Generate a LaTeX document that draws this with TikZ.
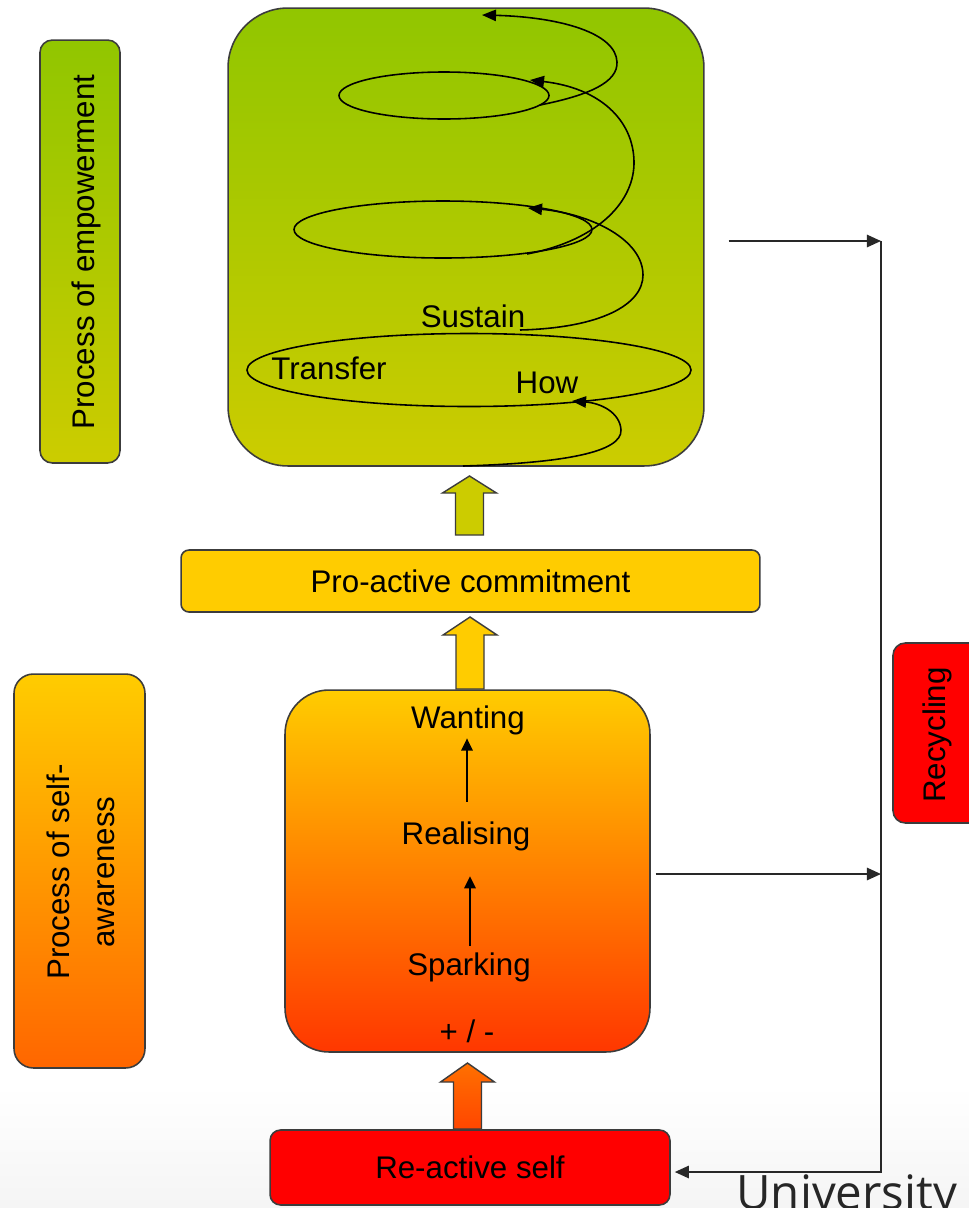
\documentclass[tikz,border=0pt]{standalone}
\usepackage{fontspec}
\setmainfont{Liberation Sans}
\newfontfamily\unifont{Open Sans}
\usetikzlibrary{arrows.meta}

\definecolor{greenTop}{RGB}{145,198,0}
\definecolor{greenBot}{RGB}{204,204,0}
\definecolor{amber}{RGB}{255,204,0}
\definecolor{orangeMid}{RGB}{255,150,0}
\definecolor{orangeBot}{RGB}{255,102,0}
\definecolor{redBot}{RGB}{255,55,0}
\definecolor{arrowOrTop}{RGB}{255,112,0}
\definecolor{arrowOrBot}{RGB}{255,70,0}
\definecolor{pureRed}{RGB}{255,0,0}
\definecolor{edge}{RGB}{60,60,60}
\definecolor{wire}{RGB}{40,40,40}

% upward block arrow: centre x, tip y, head base y, bottom y, extra options
\newcommand\upblock[5]{%
  \draw[blockedge,#5] (#1,#2) -- ({#1+27},#3) -- ({#1+14},#3) -- ({#1+14},#4)
    -- ({#1-14},#4) -- ({#1-14},#3) -- ({#1-27},#3) -- cycle;}

\begin{document}
\begin{tikzpicture}[x=0.02cm, y=-0.02cm,
  box/.style={draw=edge, line width=0.9pt, inner sep=0pt},
  blockedge/.style={draw=edge, line width=0.8pt, line join=miter},
  txt/.style={font=\fontsize{17.8}{25.5}\selectfont, inner sep=0pt},
  flow/.style={draw=wire, line width=1.1pt, -{Triangle[length=8pt,width=7pt]}},
  inarrow/.style={draw=black, line width=1.1pt, -{Triangle[length=7pt,width=6.5pt]}},
  coil/.style={draw=black, line width=0.9pt},
  cointip/.style={coil, -{Triangle[length=8pt,width=6.5pt]}},
]
\clip (0,0) rectangle (969,1208);
\fill[white] (0,0) rectangle (969,1208);
\shade[top color=white, bottom color=black!4] (0,1085) rectangle (969,1208);

% ---- side labels ----
\node[box, rounded corners=7pt, minimum width=1.6cm, minimum height=8.46cm,
      top color=greenTop, bottom color=greenBot] (empSide) at (80,251.5) {};
\node[txt, rotate=90] (empText) at (86,252) {Process of empowerment};

\node[box, rounded corners=11pt, minimum width=2.62cm, minimum height=7.88cm,
      top color=amber, bottom color=orangeBot] (selfSide) at (79.5,871) {};
\node[txt, rotate=90, align=center] (selfText) at (81,872) {Process of self-\\awareness};

% ---- main column ----
\node[box, rounded corners=34pt, minimum width=9.52cm, minimum height=9.16cm,
      top color=greenTop, bottom color=greenBot] (empower) at (466,237) {};

\node[box, rounded corners=4.5pt, minimum width=11.58cm, minimum height=1.24cm,
      fill=amber, txt] (proactive) at (470.5,581) {Pro-active commitment};

\node[box, rounded corners=25pt, minimum width=7.3cm, minimum height=7.24cm,
      top color=amber, middle color=orangeMid, bottom color=redBot] (middle) at (467.5,871) {};

\node[box, rounded corners=6pt, minimum width=8cm, minimum height=1.5cm,
      fill=pureRed, txt] (reactive) at (470,1167.5) {Re-active self};

\node[box, rounded corners=7pt, minimum width=1.76cm, minimum height=3.6cm,
      fill=pureRed] (recycle) at (937,733) {};
\node[txt, rotate=90] (recycleText) at (937,735) {Recycling};

% ---- block arrows ----
\upblock{469.5}{476}{493}{535}{fill=greenBot}
\upblock{470}{617}{635}{689}{fill=amber}
\upblock{467.5}{1063}{1082}{1129}{top color=arrowOrTop, bottom color=arrowOrBot}

% ---- stages of self-awareness ----
\node[txt, anchor=base] (wanting) at (468,728) {Wanting};
\node[txt, anchor=base] (realising) at (466,844) {Realising};
\node[txt, anchor=base] (sparking) at (469,975) {Sparking};
\node[txt, anchor=base] (plusminus) at (467,1042) {+ / -};
\draw[inarrow, shorten <=11pt, shorten >=2pt]
  (realising.north -| 467,0) -- (wanting.south -| 467,0);
\draw[inarrow, shorten <=3.4pt, shorten >=14.4pt]
  (sparking.north -| 470,0) -- (realising.south -| 470,0);

% ---- empowerment spiral ----
\draw[coil] (469,370) ellipse (222 and 36.5);
\draw[coil] (443,229.5) ellipse (149 and 28.5);
\draw[coil] (444,95.5) ellipse (105 and 23.5);
\draw[cointip] (463,466) .. controls (565,463) and (622,452) .. (621,430)
  .. controls (620,412) and (600,403) .. (572,401);
\draw[cointip] (520,330) .. controls (600,328) and (643,305) .. (643,275)
  .. controls (643,240) and (592,214) .. (528,208);
\draw[cointip] (527,254) .. controls (600,240) and (635,200) .. (634,161)
  .. controls (633,120) and (600,88) .. (530,80);
\draw[cointip] (540,105) .. controls (590,95) and (618,82) .. (617,62)
  .. controls (616,33) and (560,17) .. (482,15);
\node[txt, anchor=base] (sustain) at (473,327) {Sustain};
\node[txt, anchor=base] (transfer) at (329,379) {Transfer};
\node[txt, anchor=base] (how) at (547,393) {How};

% ---- recycling loop ----
\coordinate (j1) at (881,241);
\coordinate (j2) at (881,874);
\coordinate (j3) at (881,1172);
\draw[flow, shorten <=13.6pt] (empower.east |- j1) -- (j1);
\draw[flow, shorten <=2.8pt] (middle.east |- j2) -- (j2);
\draw[flow, shorten >=2.3pt] (j1) -- (j3) -- (reactive.east |- j3);

\node[anchor=base west, inner sep=0pt, text=black!85,
      font=\unifont\fontsize{27}{30}\selectfont] (uni) at (736,1209) {University};
\end{tikzpicture}
\end{document}
